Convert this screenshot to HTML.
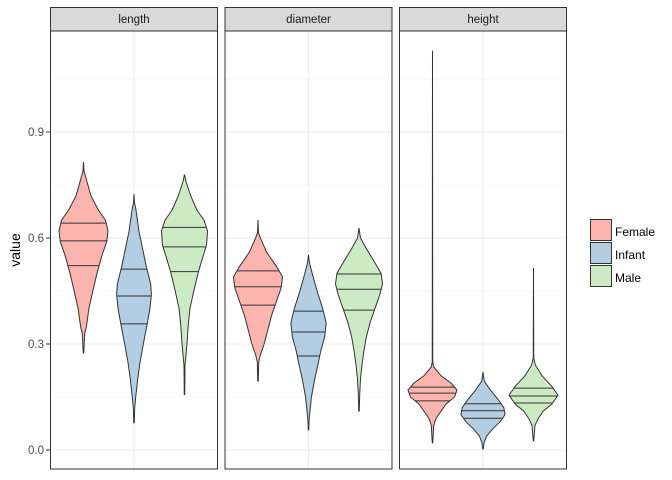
<!DOCTYPE html>
<html><head><meta charset="utf-8"><style>
body{margin:0;background:#fff}
svg{display:block;font-family:"Liberation Sans",Arial,sans-serif}
</style></head><body>
<svg id="chart" width="672" height="480" viewBox="0 0 672 480"></svg>
<script>
const facets=["length","diameter","height"];
const groups=["Female","Infant","Male"];
const fills=["#FBB4AE","#B3CDE3","#CCEBC5"];
const yTicks=[0,0.3,0.6,0.9];
const yTickLabels=["0.0","0.3","0.6","0.9"];
const yMinor=[0.15,0.45,0.75,1.05];
// violin profiles: [value, relative half width]
const lengthFemale=[[0.815,0],[0.79,0.02],[0.77,0.1],[0.72,0.3],[0.68,0.6],[0.65,0.9],[0.62,1.0],[0.59,0.95],[0.55,0.75],[0.5,0.55],[0.45,0.38],[0.4,0.22],[0.35,0.12],[0.33,0.05],[0.3,0.03],[0.275,0.01]];
const lengthInfant=[[0.724,0],[0.7,0.02],[0.68,0.08],[0.62,0.2],[0.57,0.35],[0.52,0.5],[0.47,0.68],[0.44,0.71],[0.4,0.65],[0.35,0.52],[0.3,0.38],[0.25,0.25],[0.2,0.15],[0.15,0.07],[0.12,0.03],[0.077,0.01]];
const lengthMale=[[0.78,0],[0.76,0.06],[0.72,0.25],[0.68,0.5],[0.65,0.8],[0.62,0.94],[0.58,0.9],[0.54,0.72],[0.5,0.55],[0.45,0.38],[0.4,0.22],[0.35,0.15],[0.3,0.1],[0.26,0.05],[0.24,0.02],[0.157,0.01]];
const diameterFemale=[[0.651,0],[0.615,0.02],[0.6,0.1],[0.56,0.35],[0.52,0.75],[0.49,1.0],[0.46,0.95],[0.42,0.75],[0.38,0.55],[0.34,0.4],[0.3,0.25],[0.27,0.1],[0.25,0.03],[0.195,0.01]];
const diameterInfant=[[0.552,0],[0.53,0.04],[0.5,0.15],[0.45,0.35],[0.4,0.58],[0.36,0.72],[0.32,0.66],[0.28,0.5],[0.24,0.38],[0.2,0.25],[0.15,0.12],[0.11,0.06],[0.08,0.02],[0.057,0.01]];
const diameterMale=[[0.628,0],[0.6,0.06],[0.57,0.3],[0.53,0.65],[0.5,0.9],[0.47,0.96],[0.44,0.85],[0.4,0.65],[0.36,0.45],[0.32,0.3],[0.28,0.2],[0.24,0.12],[0.2,0.06],[0.16,0.03],[0.11,0.01]];
const heightFemale=[[1.13,0],[0.25,0.01],[0.235,0.05],[0.21,0.35],[0.19,0.75],[0.17,1.0],[0.15,0.9],[0.13,0.55],[0.11,0.35],[0.09,0.15],[0.07,0.05],[0.02,0.01]];
const heightInfant=[[0.221,0],[0.195,0.05],[0.17,0.3],[0.14,0.65],[0.12,0.85],[0.1,0.9],[0.08,0.7],[0.06,0.4],[0.04,0.15],[0.02,0.04],[0.003,0.01]];
const heightMale=[[0.515,0],[0.26,0.01],[0.24,0.08],[0.21,0.35],[0.18,0.75],[0.155,1.0],[0.13,0.75],[0.11,0.4],[0.09,0.2],[0.07,0.06],[0.026,0.01]];
const quantiles=[
 [[0.522,0.592,0.642],[0.357,0.436,0.512],[0.505,0.575,0.63]],
 [[0.41,0.462,0.507],[0.266,0.334,0.393],[0.396,0.455,0.498]],
 [[0.139,0.161,0.178],[0.09,0.111,0.131],[0.133,0.153,0.175]]];
const profiles=[[lengthFemale,lengthInfant,lengthMale],[diameterFemale,diameterInfant,diameterMale],[heightFemale,heightInfant,heightMale]];

const NS="http://www.w3.org/2000/svg";
const svg=document.getElementById("chart");
const panelLeft=[50.5,225,399.5], panelW=167, panelTop=31, panelBot=469;
const y=v=>450-353.3*v;
const xc=(p,c)=>panelLeft[p]+panelW/2+(c-1)*50.5;
const maxHW=24.5;
function mk(tag,attrs,parent){const e=document.createElementNS(NS,tag);for(const k in attrs)e.setAttribute(k,attrs[k]);(parent||svg).appendChild(e);return e;}

facets.forEach((f,p)=>{
  const g=mk("g",{});
  
  
  const L=panelLeft[p];
  mk("rect",{x:L,y:panelTop,width:panelW,height:panelBot-panelTop,fill:"#fff"},g);
  yMinor.forEach(v=>mk("line",{x1:L,x2:L+panelW,y1:y(v),y2:y(v),stroke:"#f2f2f2","stroke-width":0.6},g));
  yTicks.forEach(v=>mk("line",{x1:L,x2:L+panelW,y1:y(v),y2:y(v),stroke:"#ebebeb","stroke-width":1.1},g));
  mk("line",{x1:xc(p,1),x2:xc(p,1),y1:panelTop,y2:panelBot,stroke:"#ebebeb","stroke-width":1.1},g);
  groups.forEach((gr,c)=>{
    const prof=profiles[p][c], cx=xc(p,c);
    let d="M"+cx+","+y(prof[0][0]);
    prof.forEach(([v,w])=>{d+=" L"+(cx+w*maxHW)+","+y(v);});
    for(let i=prof.length-1;i>=0;i--){d+=" L"+(cx-prof[i][1]*maxHW)+","+y(prof[i][0]);}
    d+="Z";
    const vp=mk("path",{d:d,fill:fills[c],stroke:"#333","stroke-width":1},g);
    
    
    quantiles[p][c].forEach(q=>{
      let w=0;
      for(let i=0;i<prof.length-1;i++){const a=prof[i],b=prof[i+1];if(q<=a[0]&&q>=b[0]){const t=(a[0]-q)/(a[0]-b[0]||1);w=a[1]+t*(b[1]-a[1]);}}
      const ql=mk("line",{x1:cx-w*maxHW,x2:cx+w*maxHW,y1:y(q),y2:y(q),stroke:"#333","stroke-width":1},g);
      
      
    });
  });
  mk("rect",{x:L,y:panelTop,width:panelW,height:panelBot-panelTop,fill:"none",stroke:"#333","stroke-width":1},g);
  const s=mk("rect",{x:L,y:7.5,width:panelW,height:23.5,fill:"#d9d9d9",stroke:"#333","stroke-width":1},g);
  
  
  const st=mk("text",{x:L+panelW/2,y:23,"text-anchor":"middle","font-size":11.5,fill:"#1a1a1a"},g);
  st.textContent=f;
  
  
});
yTicks.forEach((v,i)=>{
  const t=mk("text",{x:44,y:y(v)+4,"text-anchor":"end","font-size":11.5,fill:"#4d4d4d"});
  t.textContent=yTickLabels[i];
  
  
  mk("line",{x1:46,x2:50,y1:y(v),y2:y(v),stroke:"#333","stroke-width":1});
});
const yt=mk("text",{x:20,y:250,"text-anchor":"middle","font-size":14,fill:"#000",transform:"rotate(-90 20 250)"});
yt.textContent="value";


groups.forEach((gr,i)=>{
  const ky=219+i*23;
  const r=mk("rect",{x:590.5,y:ky+0.5,width:21,height:21,fill:fills[i],stroke:"#333","stroke-width":1});
  
  
  const t=mk("text",{x:615,y:ky+17,"font-size":12,fill:"#000"});
  t.textContent=gr;
  
  
});
</script>
</body></html>
